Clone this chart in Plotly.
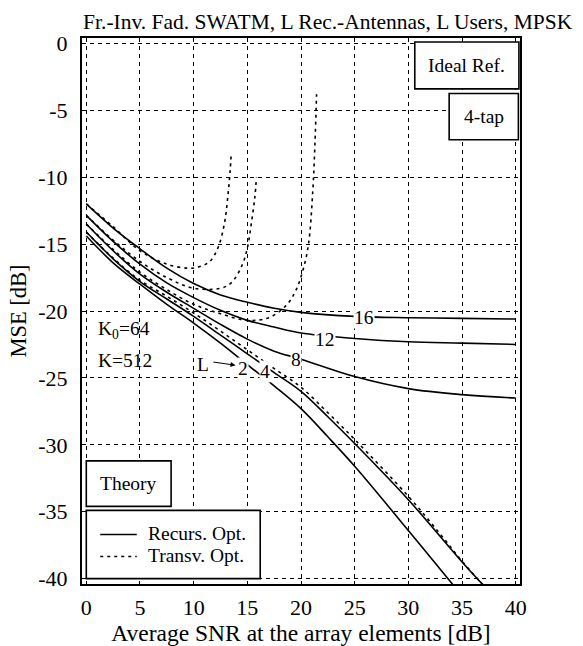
import plotly.graph_objects as go

# ---- data ----
snr_16 = [0, 2.5, 5, 7.5, 10, 12.5, 15, 17.5, 20, 25, 30, 35, 40]
rec_16 = [-12.0, -13.8, -15.35, -16.8, -17.95, -18.8, -19.35, -19.8, -20.1, -20.4, -20.5, -20.55, -20.6]
snr_12 = [0, 2.5, 5, 7.5, 10, 12.5, 15, 17.5, 20, 25, 30, 35, 40]
rec_12 = [-12.85, -14.8, -16.5, -17.9, -19.0, -19.95, -20.7, -21.2, -21.65, -22.05, -22.3, -22.4, -22.5]
snr_8 = [0, 2.5, 5, 7.5, 10, 12.5, 15, 17.5, 20, 25, 30, 35, 40]
rec_8 = [-13.5, -15.5, -17.25, -18.6, -19.8, -21.0, -22.1, -23.0, -23.6, -24.9, -25.8, -26.25, -26.5]
snr_4 = [0, 2.5, 5, 7.5, 10, 12.5, 15, 17.5, 20, 22.5, 25, 30, 35, 37, 40]
rec_4 = [-14.1, -16.1, -17.8, -19.1, -20.4, -21.8, -23.2, -24.6, -26.0, -27.9, -29.9, -34.1, -38.75, -40.5, -43.0]
snr_2 = [0, 2.5, 5, 7.5, 10, 12.5, 15, 17.5, 20, 22.5, 25, 30, 34.2, 36]
rec_2 = [-14.4, -16.4, -18.0, -19.5, -20.9, -22.4, -24.0, -25.6, -27.3, -29.4, -31.6, -36.4, -40.5, -42.2]

tsnr_16 = [0, 2.5, 5, 7.5, 9.5, 10.5, 11.5, 12.3, 12.9, 13.2, 13.4, 13.5]
trn_16 = [-12.0, -13.7, -15.5, -16.5, -16.8, -16.7, -16.3, -15.2, -13.3, -11.3, -9.5, -8.25]
tsnr_12 = [0, 2.5, 5, 7.5, 10, 12.5, 13.5, 14.5, 15, 15.4, 15.7, 15.85]
trn_12 = [-12.85, -14.7, -16.3, -17.5, -18.3, -18.3, -17.9, -16.6, -15.3, -13.3, -11.5, -10.0]
tsnr_8 = [0, 2.5, 5, 7.5, 10, 12.5, 15, 17.0, 18.6, 19.5, 20.2, 20.7, 21.1, 21.3, 21.45]
trn_8 = [-13.5, -15.4, -17.1, -18.4, -19.5, -20.2, -20.7, -20.5, -19.6, -18.5, -16.9, -15.0, -11.0, -7.5, -3.8]
tsnr_4 = [0, 2.5, 5, 7.5, 10, 12.5, 15, 17.5, 20, 22.5, 25, 30, 33, 35, 37, 40]
trn_4 = [-14.1, -16.05, -17.7, -18.9, -20.15, -21.5, -22.9, -24.3, -25.7, -27.6, -29.6, -33.85, -36.7, -38.7, -40.5, -43.0]

x_ticks = [0, 5, 10, 15, 20, 25, 30, 35, 40]
y_ticks = [0, -5, -10, -15, -20, -25, -30, -35, -40]
legend_names = ["Recurs. Opt.", "Transv. Opt."]

FONT = "Liberation Serif, Times New Roman, serif"
SOLID = dict(color="black", width=1.6)
DOTTED = dict(color="black", width=1.6, dash="3px,4px")

fig = go.Figure()
rec = [(snr_16, rec_16), (snr_12, rec_12), (snr_8, rec_8), (snr_4, rec_4), (snr_2, rec_2)]
trn = [(tsnr_16, trn_16), (tsnr_12, trn_12), (tsnr_8, trn_8), (tsnr_4, trn_4)]
for xs, ys in rec:
    fig.add_trace(go.Scatter(x=xs, y=ys, mode="lines", line=dict(SOLID, shape="spline"),
                             name=legend_names[0], showlegend=False))
for xs, ys in trn:
    fig.add_trace(go.Scatter(x=xs, y=ys, mode="lines", line=dict(DOTTED, shape="spline"),
                             name=legend_names[1], showlegend=False))

# boxes
box = dict(type="rect", xref="x", yref="y", line=dict(color="black", width=1.6),
           fillcolor="white", layer="above")
fig.add_shape(box, x0=30.6, x1=40.3, y0=0.1, y1=-3.4)
fig.add_shape(box, x0=33.8, x1=40.25, y0=-3.75, y1=-7.2)
fig.add_shape(box, x0=0, x1=7.9, y0=-31.2, y1=-34.6)
fig.add_shape(box, x0=0, x1=16.2, y0=-34.9, y1=-40.0)

# legend inside the box
fig.add_shape(type="line", xref="x", yref="y", x0=1.3, x1=4.7, y0=-36.7, y1=-36.7,
              line=SOLID, layer="above")
fig.add_shape(type="line", xref="x", yref="y", x0=1.3, x1=4.7, y0=-38.35, y1=-38.35,
              line=DOTTED, layer="above")

ann = dict(xref="x", yref="y", showarrow=False, font=dict(family=FONT, size=19.5, color="black"))
fig.add_annotation(ann, x=5.6, y=-36.6, text=legend_names[0], xanchor="left")
fig.add_annotation(ann, x=5.6, y=-38.3, text=legend_names[1], xanchor="left")
fig.add_annotation(ann, x=35.45, y=-1.65, text="Ideal Ref.")
fig.add_annotation(ann, x=37.0, y=-5.45, text="4-tap")
fig.add_annotation(ann, x=3.95, y=-32.9, text="Theory")
fig.add_annotation(ann, x=0.9, y=-21.4, text="K<sub>0</sub>=64", xanchor="left")
fig.add_annotation(ann, x=0.9, y=-23.7, text="K=512", xanchor="left")

lab = dict(ann, bgcolor="white", borderpad=0)
fig.add_annotation(lab, x=25.9, y=-20.5, text="16")
fig.add_annotation(lab, x=22.25, y=-22.1, text="12")
fig.add_annotation(lab, x=19.5, y=-23.6, text="8")
fig.add_annotation(lab, x=14.6, y=-24.3, text="2")
fig.add_annotation(lab, x=16.6, y=-24.5, text="4")
fig.add_annotation(ann, x=10.9, y=-24.0, text="L")
fig.add_annotation(xref="x", yref="y", axref="x", ayref="y", x=13.9, y=-24.05, ax=11.7, ay=-23.8,
                   text="", showarrow=True, arrowhead=2, arrowsize=1, arrowwidth=1, arrowcolor="black")

axis_common = dict(showgrid=True, gridcolor="black", gridwidth=1, griddash="4px,4px",
                   zeroline=False, showline=True, linecolor="black", linewidth=2, mirror=True,
                   ticks="inside", ticklen=3, tickwidth=1, tickcolor="black",
                   automargin=False,
                   tickfont=dict(family=FONT, size=22, color="black"))
fig.update_xaxes(axis_common, range=[-0.4, 40.4], tickvals=x_ticks, ticktext=[str(v) for v in x_ticks],
                 ticklabelstandoff=3,
                 title=dict(text="Average SNR at the array elements [dB]", font=dict(family=FONT, size=23.5),
                            standoff=0))
fig.update_yaxes(axis_common, range=[-40.4, 0.4], tickvals=y_ticks, ticktext=[str(v) for v in y_ticks],
                 ticklabelstandoff=8,
                 title=dict(text="MSE [dB]", font=dict(family=FONT, size=22.5), standoff=5))

fig.update_layout(
    width=583, height=646,
    margin=dict(l=82, r=63, t=38, b=62),
    paper_bgcolor="white", plot_bgcolor="white",
    font=dict(family=FONT, color="black"),
    title=dict(text="Fr.-Inv. Fad. SWATM, L Rec.-Antennas, L Users, MPSK",
               font=dict(family=FONT, size=21.5, color="black"),
               x=0.562, xanchor="center", y=0.966, yanchor="middle", xref="container", yref="container"),
    showlegend=False,
)

fig.write_html("out.html", config={"displayModeBar": False},
               post_script="document.body.style.margin='0';document.body.style.overflow='hidden';")
